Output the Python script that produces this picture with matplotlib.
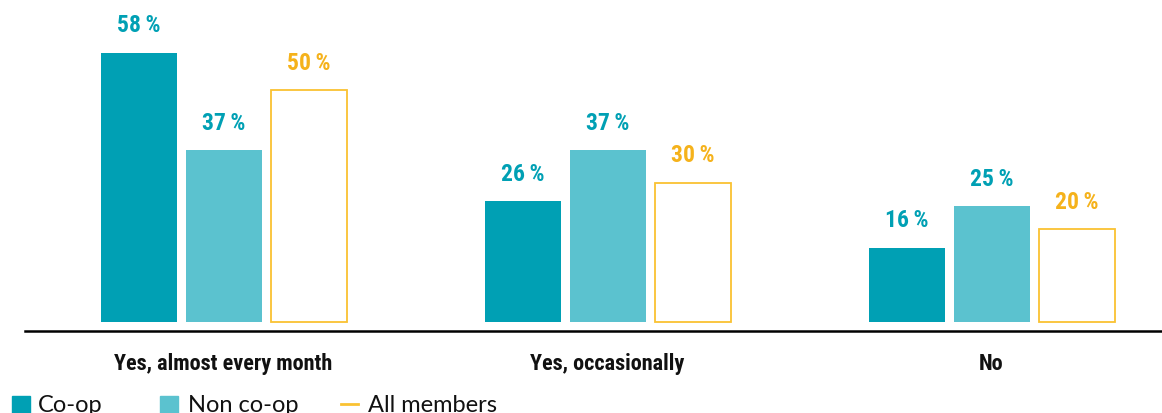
import matplotlib
matplotlib.use("Agg")
import matplotlib.pyplot as plt
import numpy as np
from matplotlib.patches import Rectangle
from matplotlib.lines import Line2D

# data
categories = ["Yes, almost every month", "Yes, occasionally", "No"]
coop = [58, 26, 16]
non_coop = [37, 37, 25]
all_members = [50, 30, 20]
series_names = ["Co-op", "Non co-op", "All members"]

c_coop = "#00A0B4"
c_noncoop = "#5BC2CF"
c_all = "#FAC232"
c_all_txt = "#F5B21B"

fig = plt.figure(figsize=(11.62, 4.13), dpi=100)
ax = fig.add_axes([25 / 1162, 82 / 413, 1137 / 1162, 331 / 413])

x = np.arange(len(categories))
w = 76 / 384
off = 85 / 384

b1 = ax.bar(x - off, coop, w, color=c_coop)
b2 = ax.bar(x, non_coop, w, color=c_noncoop)
b3 = ax.bar(x + off, all_members, w, facecolor="white", edgecolor=c_all, linewidth=1.3)

cond = ["Roboto Condensed", "Barlow Condensed", "DejaVu Sans"]
num_font = dict(family=cond, fontweight="bold", fontsize=17)
for bars, vals, col in [(b1, coop, c_coop), (b2, non_coop, c_coop), (b3, all_members, c_all_txt)]:
    for b, v in zip(bars, vals):
        ax.annotate(f"{v}\u2009%", (b.get_x() + b.get_width() / 2, v), xytext=(0, 27),
                    textcoords="offset pixels", ha="center", va="center", color=col, **num_font)

ax.set_xlim(-(223.5 - 25) / 384, (1162 - 223.5) / 384)
ax.set_ylim(-1.94, 69.4)
for s in ["top", "right", "left"]:
    ax.spines[s].set_visible(False)
ax.spines["bottom"].set_linewidth(1.8)
ax.spines["bottom"].set_color("black")
ax.set_yticks([])
ax.set_xticks(x)
ax.set_xticklabels(categories, color="#111111", family=cond, fontweight="bold", fontsize=16)
ax.tick_params(axis="x", length=0, pad=16)

# legend along the bottom edge
leg_font = dict(family="Lato", fontsize=17, color="#111111", va="center")
fig.patches.append(Rectangle((12 / 1162, 0), 18 / 1162, 17 / 413, transform=fig.transFigure,
                             color=c_coop, figure=fig))
fig.text(38 / 1162, 8 / 413, series_names[0], **leg_font)
fig.patches.append(Rectangle((160 / 1162, 0), 18 / 1162, 17 / 413, transform=fig.transFigure,
                             color=c_noncoop, figure=fig))
fig.text(188 / 1162, 8 / 413, series_names[1], **leg_font)
fig.lines.append(Line2D([341 / 1162, 358 / 1162], [9 / 413, 9 / 413], transform=fig.transFigure,
                        color=c_all, linewidth=2, figure=fig))
fig.text(368 / 1162, 8 / 413, series_names[2], **leg_font)

fig.savefig("out.png", dpi=100)
